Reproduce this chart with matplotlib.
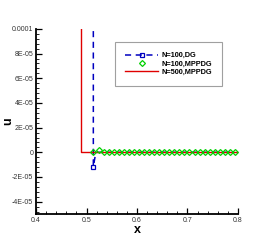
import numpy as np
import matplotlib
matplotlib.use("Agg")
import matplotlib.pyplot as plt
from matplotlib.ticker import AutoMinorLocator, FixedLocator, FixedFormatter

plt.rcParams['font.family'] = ['Liberation Sans', 'DejaVu Sans']

# N=100, DG (blue dashed with squares)
dg_x = [0.5135, 0.5135, 0.5185] + [round(0.524 + 0.01 * i, 3) for i in range(28)]
dg_u = [2.0e-4, -1.15e-5, 0.0] + [0.0] * 28

# N=100, MPPDG (green diamonds)
mp_x = [0.5135, 0.524] + [round(0.534 + 0.01 * i, 3) for i in range(27)]
mp_u = [0.0, 1.5e-6] + [0.0] * 27

# N=500, MPPDG (red line)
fine_x = [0.49, 0.49, 0.8]
fine_u = [2.0e-4, 0.0, 0.0]

yticks = [-4e-5, -2e-5, 0, 2e-5, 4e-5, 6e-5, 8e-5, 1e-4]
ylabels = ['-4E-05', '-2E-05', '0', '2E-05', '4E-05', '6E-05', '8E-05', '0.0001']
xticks = [0.4, 0.5, 0.6, 0.7, 0.8]
xlabels = ['0.4', '0.5', '0.6', '0.7', '0.8']

fig = plt.figure(figsize=(2.71, 2.41), dpi=100)
ax = fig.add_axes([0.133, 0.112, 0.745, 0.768])

ax.plot(dg_x, dg_u, color='#0000c0', linestyle=(0, (4, 3)), linewidth=1.1,
        marker='s', markersize=3.2, markerfacecolor='none', markeredgewidth=0.9,
        markevery=[1], label='N=100,DG')
ax.plot(fine_x, fine_u, color='#e00000', linewidth=1.0, label='N=500,MPPDG')
ax.plot(mp_x, mp_u, linestyle='none', marker='D', markersize=3.0,
        markerfacecolor='none', markeredgecolor='#00d000', markeredgewidth=0.9,
        label='N=100,MPPDG')

ax.set_xlim(0.4, 0.8)
ax.set_ylim(-5e-5, 1e-4)
ax.xaxis.set_major_locator(FixedLocator(xticks))
ax.xaxis.set_major_formatter(FixedFormatter(xlabels))
ax.yaxis.set_major_locator(FixedLocator(yticks))
ax.yaxis.set_major_formatter(FixedFormatter(ylabels))
ax.xaxis.set_minor_locator(AutoMinorLocator(5))
ax.yaxis.set_minor_locator(AutoMinorLocator(5))

for s in ['top', 'right']:
    ax.spines[s].set_visible(False)
for s in ['left', 'bottom']:
    ax.spines[s].set_linewidth(1.3)

ax.tick_params(which='major', direction='in', length=4, width=0.9,
               labelsize=5, labelcolor='#333333', pad=2)
ax.tick_params(which='minor', direction='in', length=2, width=0.6)

ax.set_xlabel('x', fontsize=9, fontweight='bold', labelpad=0)
ax.set_ylabel('u', fontsize=9, fontweight='bold')
ax.yaxis.set_label_coords(-0.11, 0.5)

handles, labels = ax.get_legend_handles_labels()
order = [0, 2, 1]
leg = ax.legend([handles[i] for i in order], [labels[i] for i in order],
                loc='upper left', bbox_to_anchor=(0.39, 0.93),
                prop={'weight': 'bold', 'size': 5.3}, frameon=True, fancybox=False,
                edgecolor='#888888', handlelength=4.5, borderpad=1.4,
                labelspacing=0.15, handletextpad=0.4, borderaxespad=0)
leg.get_frame().set_linewidth(0.8)

fig.savefig('out.png', dpi=100)
